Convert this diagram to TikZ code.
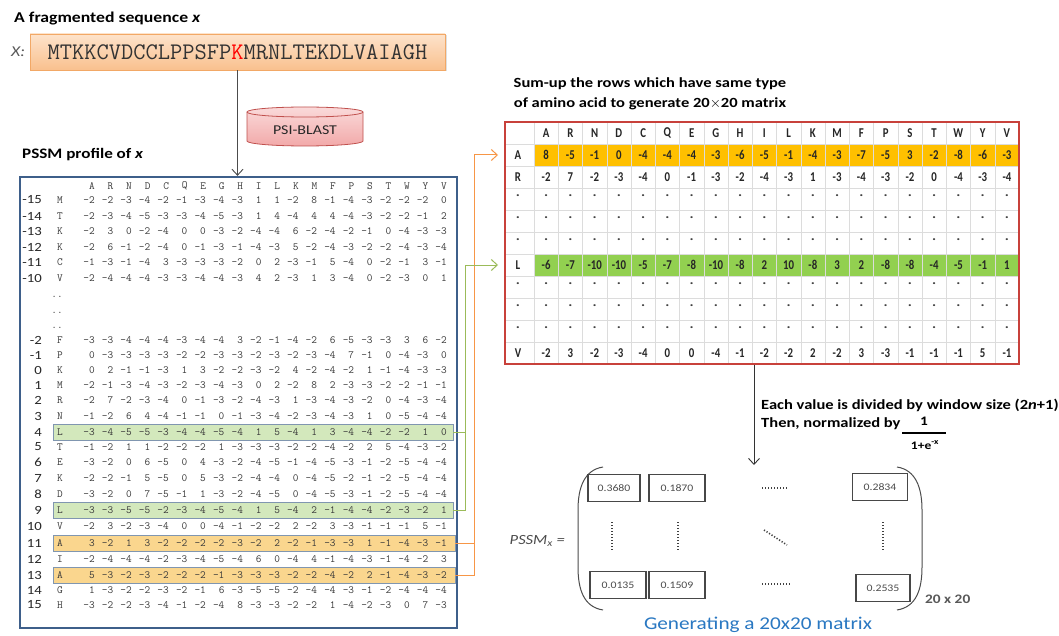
\documentclass[tikz,border=0pt]{standalone}
\usepackage{fontspec}
\setmainfont{Carlito}[FakeStretch=1.18]
\newfontfamily\narrowf[FakeStretch=0.8]{Carlito}
\usetikzlibrary{arrows.meta,shadows}
\definecolor{pssmblue}{HTML}{3E5F8A}
\definecolor{numgray}{HTML}{3A3A3A}
\definecolor{hlgfill}{HTML}{D3E8BC}
\definecolor{hlofill}{HTML}{FAD68E}
\definecolor{hlborder}{HTML}{8096B0}
\definecolor{conorange}{HTML}{F79646}
\definecolor{congreen}{HTML}{9BBB59}
\definecolor{matred}{HTML}{C8413B}
\definecolor{mgold}{HTML}{FFC000}
\definecolor{mgreen}{HTML}{92D050}
\definecolor{gridc}{HTML}{DCDCDC}
\definecolor{seqborder}{HTML}{F2A866}
\definecolor{seqtop}{HTML}{FDE3CB}
\definecolor{seqbot}{HTML}{F9C08E}
\definecolor{cyltop}{HTML}{FADADA}
\definecolor{cylbot}{HTML}{F2A9A9}
\definecolor{cylborder}{HTML}{C0504D}
\definecolor{genblue}{HTML}{2A78C2}
\begin{document}
\begin{tikzpicture}[x=1pt,y=-1pt,
  pnum/.style={anchor=east,inner sep=0pt,font=\ttfamily\fontsize{11}{12}\selectfont,text=numgray},
  paa/.style={inner sep=0pt,font=\ttfamily\fontsize{11}{12}\selectfont,text=numgray},
  rlab/.style={anchor=east,inner sep=0pt,font=\fontsize{12.5}{14}\selectfont,text=black!85},
  hlg/.style={draw=hlborder,fill=hlgfill,line width=0.9pt,minimum width=400pt,minimum height=16pt,inner sep=0pt},
  hlo/.style={draw=hlborder,fill=hlofill,line width=0.9pt,minimum width=402pt,minimum height=16pt,inner sep=0pt},
  mtxt/.style={inner sep=0pt,font=\narrowf\bfseries\fontsize{13.5}{14}\selectfont,text=black!85},
  mdot/.style={inner sep=0pt,font=\bfseries\fontsize{13}{14}\selectfont,text=black!75},
  oline/.style={draw=conorange,line width=1pt},
  gline/.style={draw=congreen,line width=1pt},
  barb/.style={-{Straight Barb[length=6pt,width=11pt]}},
  mbox/.style={draw=black!72,line width=1.2pt,minimum width=54pt,minimum height=27pt,inner sep=0pt,font=\fontsize{10}{12}\selectfont,text=black!70},
  vdots/.style={draw=black!75,line width=1.6pt,dash pattern=on 1.2pt off 1.8pt},
  paren/.style={draw=black!70,line width=1pt},
]
\useasboundingbox (0,0) rectangle (1059,636);
\fill[white] (0,0) rectangle (1059,636);

% ---------- sequence ----------
\node[anchor=west,inner sep=0pt,font=\bfseries\fontsize{15}{17}\selectfont] (t1) at (14,19) {A fragmented sequence \textit{x}};
\node[anchor=west,inner sep=0pt,font=\itshape\fontsize{15}{17}\selectfont,text=black!65] (xl) at (11,52) {X:};
\node[draw=seqborder,line width=0.8pt,top color=seqtop, bottom color=seqbot,
      minimum width=415pt,minimum height=36pt,inner sep=0pt,
      drop shadow={opacity=0.25,shadow xshift=1.5pt,shadow yshift=-1.5pt},
      font=\ttfamily\fontsize{23.8}{26}\selectfont,text=black!80] (seq) at (237.5,52)
      {MTKKCVDCCLPPSFP\textcolor{red}{K}MRNLTEKDLVAIAGH};

% ---------- PSI-BLAST cylinder ----------
\shade[top color=cyltop, bottom color=cylbot, draw=cylborder, line width=0.8pt]
  (247,112) -- (247,141) arc[start angle=180,end angle=360,x radius=58pt,y radius=5pt]
  -- (363,112) arc[start angle=0,end angle=180,x radius=58pt,y radius=5pt] -- cycle;
\draw[cylborder,line width=0.8pt] (247,112) arc[start angle=180,end angle=360,x radius=58pt,y radius=5pt];
\node[inner sep=0pt,font=\fontsize{13.5}{16}\selectfont,text=black!85] (psi) at (305,130) {PSI-BLAST};

% ---------- PSSM profile ----------
\node[anchor=west,inner sep=0pt,font=\bfseries\fontsize{14.5}{16}\selectfont] (t2) at (22,155) {PSSM profile of \textit{x}};

\node[hlg] (r4) at (253,432) {};
\node[hlg] (r9) at (253,510) {};
\node[hlo] (r11) at (254,543) {};
\node[hlo] (r13) at (254,575) {};

\foreach \lab [count=\c] in {A,R,N,D,C,Q,E,G,H,I,L,K,M,F,P,S,T,W,Y,V}
  \node[paa] (ph\c) at ({92+18.53*(\c-1)},186) {\lab};

\foreach \lab/\aa/\yy/\vals [count=\i] in {
 -15/M/200/{-2,-2,-3,-4,-2,-1,-3,-4,-3,1,1,-2,8,-1,-4,-3,-2,-2,-2,0},
 -14/T/216/{-2,-3,-4,-5,-3,-3,-4,-5,-3,1,4,-4,4,4,-4,-3,-2,-2,-1,2},
 -13/K/231/{-2,3,0,-2,-4,0,0,-3,-2,-4,-4,6,-2,-4,-2,-1,0,-4,-3,-3},
 -12/K/247/{-2,6,-1,-2,-4,0,-1,-3,-1,-4,-3,5,-2,-4,-3,-2,-2,-4,-3,-4},
 -11/C/262/{-1,-3,-1,-4,3,-3,-3,-3,-2,0,2,-3,-1,5,-4,0,-2,-1,3,-1},
 -10/V/278/{-2,-4,-4,-4,-3,-3,-4,-4,-3,4,2,-3,1,3,-4,0,-2,-3,0,1},
 -2/F/340/{-3,-3,-4,-4,-4,-3,-4,-4,3,-2,-1,-4,-2,6,-5,-3,-3,3,6,-2},
 -1/P/355/{0,-3,-3,-3,-3,-2,-2,-3,-3,-2,-3,-2,-3,-4,7,-1,0,-4,-3,0},
 0/K/370/{0,2,-1,-1,-3,1,3,-2,-2,-3,-2,4,-2,-4,-2,1,-1,-4,-3,-3},
 1/M/385/{-2,-1,-3,-4,-3,-2,-3,-4,-3,0,2,-2,8,2,-3,-3,-2,-2,-1,-1},
 2/R/400/{-2,7,-2,-3,-4,0,-1,-3,-2,-4,-3,1,-3,-4,-3,-2,0,-4,-3,-4},
 3/N/416/{-1,-2,6,4,-4,-1,-1,0,-1,-3,-4,-2,-3,-4,-3,1,0,-5,-4,-4},
 4/L/432/{-3,-4,-5,-5,-3,-4,-4,-5,-4,1,5,-4,1,3,-4,-4,-2,-2,1,0},
 5/T/447/{-1,-2,1,1,-2,-2,-2,1,-3,-3,-3,-2,-2,-4,-2,2,5,-4,-3,-2},
 6/E/462/{-3,-2,0,6,-5,0,4,-3,-2,-4,-5,-1,-4,-5,-3,-1,-2,-5,-4,-4},
 7/K/478/{-2,-2,-1,5,-5,0,5,-3,-2,-4,-4,0,-4,-5,-2,-1,-2,-5,-4,-4},
 8/D/494/{-3,-2,0,7,-5,-1,1,-3,-2,-4,-5,0,-4,-5,-3,-1,-2,-5,-4,-4},
 9/L/510/{-3,-3,-5,-5,-2,-3,-4,-5,-4,1,5,-4,2,-1,-4,-4,-2,-3,-2,1},
 10/V/526/{-2,3,-2,-3,-4,0,0,-4,-1,-2,-2,2,-2,3,-3,-1,-1,-1,5,-1},
 11/A/543/{3,-2,1,3,-2,-2,-2,-2,-3,-2,2,-2,-1,-3,-3,1,-1,-4,-3,-1},
 12/I/559/{-2,-4,-4,-4,-2,-3,-4,-5,-4,6,0,-4,4,-1,-4,-3,-1,-4,-2,3},
 13/A/575/{5,-3,-2,-3,-2,-2,-2,-1,-3,-3,-3,-2,-2,-4,-2,2,-1,-4,-3,-2},
 14/G/590/{1,-3,-2,-2,-3,-2,-1,6,-3,-5,-5,-2,-4,-4,-3,-1,-2,-4,-4,-4},
 15/H/605/{-3,-2,-2,-3,-4,-1,-2,-4,8,-3,-3,-2,-2,1,-4,-2,-3,0,7,-3}}{
  \node[rlab] (rl\i) at (42,\yy) {\lab};
  \node[paa] (ra\i) at (60,\yy) {\aa};
  \foreach \v [count=\c] in \vals
    \node[pnum] (p\i-\c) at ({94.9+18.53*(\c-1)},\yy) {\v};
}
\node[paa] (dd1) at (57,297) {..};
\node[paa] (dd2) at (57,313) {..};
\node[paa] (dd3) at (57,328) {..};

\node[draw=pssmblue,line width=2.2pt,minimum width=437pt,minimum height=451pt,inner sep=0pt] (pssm) at (238.5,402.5) {};
\draw[black!70,line width=0.9pt,barb] (seq.south) -- (seq.south |- pssm.north);

% ---------- summed matrix ----------
\node[anchor=center,align=center,inner sep=0pt,font=\bfseries\fontsize{14}{19.5}\selectfont] (t3) at (650,94)
  {Sum-up the rows which have same type\\ of amino acid to generate 20$\times$20 matrix};

\fill[mgold] (534,144) rectangle (1019,166);
\fill[mgreen] (534,254) rectangle (1019,276);
\foreach \k in {1,...,10} \draw[gridc,line width=0.5pt] (505,{122+22*\k}) -- (1019,{122+22*\k});
\foreach \j in {0,...,19} \draw[gridc,line width=0.5pt] ({534+24.25*\j},122) -- ({534+24.25*\j},364);

\foreach \lab [count=\j] in {A,R,N,D,C,Q,E,G,H,I,L,K,M,F,P,S,T,W,Y,V}
  \node[mtxt] (mh\j) at ({534+24.25*(\j-0.5)},133) {\lab};
\node[mtxt] (mlA) at (518,155) {A};
\node[mtxt] (mlR) at (518,177) {R};
\node[mtxt] (mlL) at (518,265) {L};
\node[mtxt] (mlV) at (518,353) {V};
\foreach \v [count=\j] in {8,-5,-1,0,-4,-4,-4,-3,-6,-5,-1,-4,-3,-7,-5,3,-2,-8,-6,-3}
  \node[mtxt] (mA\j) at ({534+24.25*(\j-0.5)},155) {\v};
\foreach \v [count=\j] in {-2,7,-2,-3,-4,0,-1,-3,-2,-4,-3,1,-3,-4,-3,-2,0,-4,-3,-4}
  \node[mtxt] (mR\j) at ({534+24.25*(\j-0.5)},177) {\v};
\foreach \v [count=\j] in {-6,-7,-10,-10,-5,-7,-8,-10,-8,2,10,-8,3,2,-8,-8,-4,-5,-1,1}
  \node[mtxt] (mL\j) at ({534+24.25*(\j-0.5)},265) {\v};
\foreach \v [count=\j] in {-2,3,-2,-3,-4,0,0,-4,-1,-2,-2,2,-2,3,-3,-1,-1,-1,5,-1}
  \node[mtxt] (mV\j) at ({534+24.25*(\j-0.5)},353) {\v};
\foreach \r in {3,4,5,7,8,9}{
  \node[mdot] (md\r-0) at (518,{130+22*\r}) {.};
  \foreach \j in {1,...,20}
    \node[mdot] (md\r-\j) at ({534+24.25*(\j-0.5)},{130+22*\r}) {.};
}
\node[draw=matred,line width=1.6pt,minimum width=514pt,minimum height=242pt,inner sep=0pt] (mat) at (762,243) {};

% ---------- connectors to the summed matrix ----------
\coordinate (ox) at (474,0);
\coordinate (gx) at (465,0);
\coordinate (Atip) at (498,155);
\coordinate (Ltip) at (498,265);
\draw[oline] (r11.east) -- (r11.east -| ox);
\draw[oline,barb] (r13.east) -| (ox |- Atip) -- (Atip);
\draw[gline] (r4.east) -- (r4.east -| gx);
\draw[gline,barb] (r9.east) -| (gx |- Ltip) -- (Ltip);

% ---------- normalisation ----------
\coordinate (dn) at (754,465);
\draw[black!80,line width=0.9pt,barb] (dn |- mat.south) -- (dn);
\node[anchor=west,inner sep=0pt,font=\bfseries\fontsize{14}{16}\selectfont] (ev) at (761,405)
  {Each value is divided by window size (2\textit{n}+1)};
\node[anchor=west,inner sep=0pt,font=\bfseries\fontsize{14}{16}\selectfont] (tn) at (761,424)
  {Then, normalized by};
\node[inner sep=0pt,font=\bfseries\fontsize{13}{14}\selectfont] (fnum) at (924,421) {1};
\node[inner sep=0pt] (fbar) at (924,433) {\rule{44pt}{1.3pt}};
\node[inner sep=0pt,font=\bfseries\fontsize{11.5}{13}\selectfont] (fden) at (925,445) {1+e\textsuperscript{-x}};

% ---------- final matrix ----------
\node[anchor=east,inner sep=0pt,font=\itshape\fontsize{14}{16}\selectfont,text=black!70] (pl) at (565,541)
  {PSSM\textsubscript{x} =};
\draw[paren] (603,467) .. controls (584,470) and (578,488) .. (578,510) -- (578,567)
  .. controls (578,590) and (584,607) .. (603,610);
\draw[paren] (897,467) .. controls (916,470) and (922,488) .. (922,510) -- (922,567)
  .. controls (922,590) and (916,607) .. (897,610);
\node[mbox,minimum width=52pt] (b11) at (614,488) {0.3680};
\node[mbox,minimum width=56pt] (b12) at (677,488) {0.1870};
\node[mbox,minimum width=55pt] (b1n) at (880,487) {0.2834};
\node[mbox,minimum width=56pt] (bn1) at (618,585) {0.0135};
\node[mbox,minimum width=56pt] (bn2) at (677,585) {0.1509};
\node[mbox,minimum width=54pt] (bnn) at (883,588) {0.2535};
\draw[vdots] (762,488) -- (788,488);
\draw[vdots] (762,584) -- (790,584);
\draw[vdots] (612,522) -- (612,551);
\draw[vdots] (678,522) -- (678,551);
\draw[vdots] (883,522) -- (883,551);
\draw[vdots] (764,530) -- (787,545);
\node[anchor=west,inner sep=0pt,font=\bfseries\fontsize{13}{16}\selectfont,text=black!65] (dim) at (925,599) {20 x 20};
\node[inner sep=0pt,font=\fontsize{18}{20}\selectfont,text=genblue] (gen) at (758,625) {Generating a 20x20 matrix};
\end{tikzpicture}
\end{document}
